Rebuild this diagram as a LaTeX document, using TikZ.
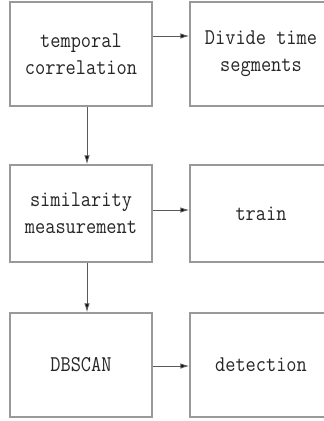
\documentclass[tikz,border=0pt]{standalone}
\usepackage{fontspec}
\newfontfamily\boxmono[FakeStretch=0.88]{Latin Modern Mono}
\usetikzlibrary{arrows.meta}
\begin{document}
\begin{tikzpicture}[x=1pt,y=-1pt,
  box/.style={draw=black!40,line width=1.3pt,rectangle,inner sep=0pt,
    minimum width=142pt,align=center,text=black!85,
    font=\boxmono\fontsize{22.5}{27}\selectfont},
  arr/.style={draw=black!65,line width=1pt,-{Latex[length=9pt,width=5.5pt,fill=black]}}]
\useasboundingbox (0,0) rectangle (324,421);
\fill[white] (0,0) rectangle (324,421);
\node[box,minimum height=104pt] (A) at (81,54) {temporal\\correlation};
\node[box,minimum height=104pt] (B) at (261,54) {Divide time\\segments};
\node[box,minimum height=97pt] (C) at (81,213.5) {similarity\\measurement};
\node[box,minimum height=97pt] (D) at (261,213.5) {train};
\node[box,minimum height=104pt] (E) at (81,365) {DBSCAN};
\node[box,minimum height=104pt] (F) at (261,365) {detection};
\draw[arr] (A.east |- 0,36) -- (B.west |- 0,36);
\draw[arr] (C.east |- 0,210) -- (D.west |- 0,210);
\draw[arr] (E.east |- 0,366) -- (F.west |- 0,366);
\draw[arr] (A.south -| 87,0) -- (C.north -| 87,0);
\draw[arr] (C.south -| 87,0) -- (E.north -| 87,0);
\end{tikzpicture}
\end{document}
